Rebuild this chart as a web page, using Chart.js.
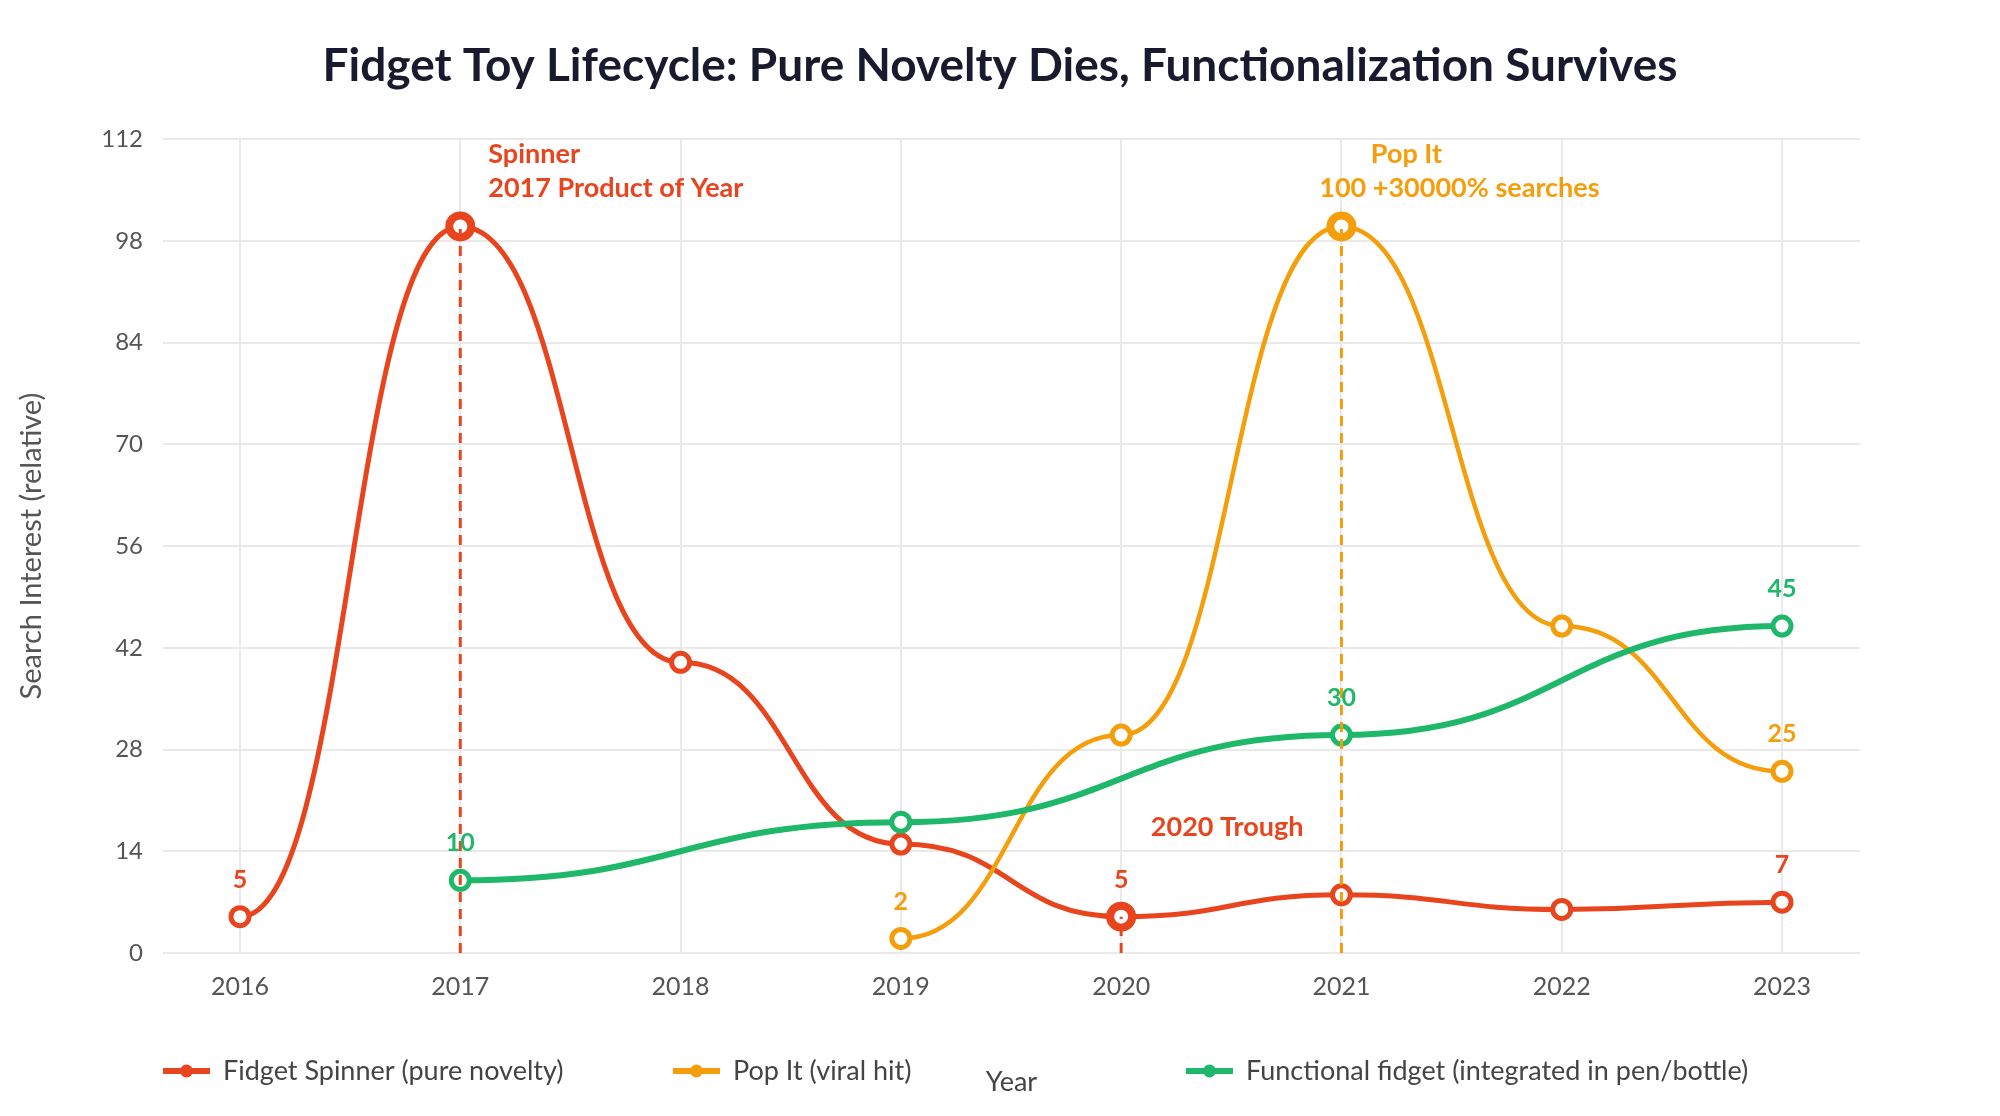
<!DOCTYPE html>
<html><head><meta charset="utf-8">
<script src="https://cdn.jsdelivr.net/npm/chart.js@4.4.1/dist/chart.umd.min.js"></script>
<style>html,body{margin:0;padding:0;background:#fff;}canvas{display:block;}</style>
</head><body>
<canvas id="c" width="2000" height="1116"></canvas>
<script>
// ---- data ----
const years = [2016, 2017, 2018, 2019, 2020, 2021, 2022, 2023];
const spinner = [5, 100, 40, 15, 5, 8, 6, 7];
const popIt = [null, null, null, 2, 30, 100, 45, 25];
const functional = [null, 10, null, 18, null, 30, null, 45];
const seriesNames = ['Fidget Spinner (pure novelty)', 'Pop It (viral hit)', 'Functional fidget (integrated in pen/bottle)'];
const spinnerLabelYears = [2016, 2020, 2023];
const popItLabelYears = [2019, 2023];
const functionalLabelYears = [2017, 2021, 2023];
const spinnerHighlightYears = [2017, 2020];
const popItHighlightYears = [2021];
const spinnerPeakText = ['Spinner', '2017 Product of Year'];
const popItPeakText = ['Pop It', '100 +30000% searches'];
const troughText = '2020 Trough';
const yTicks = { min: 0, max: 112, step: 14 };
const titleText = 'Fidget Toy Lifecycle: Pure Novelty Dies, Functionalization Survives';
const xTitle = 'Year';
const yTitle = 'Search Interest (relative)';

// ---- style ----
const RED = '#e8451e', ORANGE = '#f59e0b', GREEN = '#1fb86b';
const FONT = 'Lato, "Noto Sans", sans-serif';
const toPts = (vals) => years.map((y, i) => ({ x: y, y: vals[i] })).filter(p => p.y !== null);
const valOf = (vals, yr) => vals[years.indexOf(yr)];

const lineDs = (label, vals, color, width, order) => ({
  label, data: toPts(vals), borderColor: color, backgroundColor: '#fff',
  borderWidth: width, tension: 0.4, pointRadius: 9, pointBorderWidth: 5,
  pointBackgroundColor: '#fff', pointBorderColor: color, order, bump: true
});
const highlightDs = (vals, yrs, color) => ({
  label: '_hl', data: yrs.map(y => ({ x: y, y: valOf(vals, y) })), showLine: false,
  pointRadius: 11, pointBorderWidth: 8, pointBorderColor: color, pointBackgroundColor: '#fff',
  borderColor: color, order: 1
});
const dropDs = (vals, yr, color) => ({
  label: '_drop', data: [{ x: yr, y: 0 }, { x: yr, y: valOf(vals, yr) }],
  borderColor: color, borderWidth: 3, borderDash: [10, 7], pointRadius: 0, order: 0
});

const datasets = [
  lineDs(seriesNames[0], spinner, RED, 5, 4),
  lineDs(seriesNames[1], popIt, ORANGE, 4.5, 3),
  lineDs(seriesNames[2], functional, GREEN, 6, 2),
  highlightDs(spinner, spinnerHighlightYears, RED),
  highlightDs(popIt, popItHighlightYears, ORANGE),
  ...spinnerHighlightYears.map(y => dropDs(spinner, y, RED)),
  ...popItHighlightYears.map(y => dropDs(popIt, y, ORANGE))
];

const labelSets = [
  { vals: spinner, yrs: spinnerLabelYears, color: RED },
  { vals: popIt, yrs: popItLabelYears, color: ORANGE },
  { vals: functional, yrs: functionalLabelYears, color: GREEN }
];

// horizontal-tangent (bump) smoothing of the library's bezier control points
const bump = {
  id: 'bump',
  beforeDatasetDraw(chart, args) {
    const meta = args.meta;
    const ds = chart.data.datasets[args.index];
    if (!ds.bump || !meta.dataset) return;
    meta.dataset.updateControlPoints(chart.chartArea);
    const pts = meta.data;
    for (let i = 0; i < pts.length; i++) {
      const p = pts[i], prev = pts[i - 1], next = pts[i + 1];
      if (prev) { p.cp1x = p.x - (p.x - prev.x) * 0.5; p.cp1y = p.y; }
      if (next) { p.cp2x = p.x + (next.x - p.x) * 0.5; p.cp2y = p.y; }
    }
  }
};

const overlay = {
  id: 'overlay',
  afterDatasetsDraw(chart) {
    const ctx = chart.ctx, xs = chart.scales.x, ys = chart.scales.y;
    ctx.save();
    ctx.textAlign = 'center'; ctx.textBaseline = 'middle';
    ctx.font = 'bold 25px ' + FONT;
    labelSets.forEach(s => s.yrs.forEach(yr => {
      const v = valOf(s.vals, yr);
      ctx.fillStyle = s.color;
      ctx.fillText(String(v), xs.getPixelForValue(yr), ys.getPixelForValue(v) - 37);
    }));
    ctx.font = 'bold 27px ' + FONT;
    // spinner peak annotation
    let px = xs.getPixelForValue(spinnerHighlightYears[0]);
    let py = ys.getPixelForValue(valOf(spinner, spinnerHighlightYears[0]));
    ctx.fillStyle = RED; ctx.textAlign = 'left';
    ctx.fillText(spinnerPeakText[0], px + 28, py - 72);
    ctx.fillText(spinnerPeakText[1], px + 28, py - 38);
    // pop it annotation
    px = xs.getPixelForValue(popItHighlightYears[0]);
    py = ys.getPixelForValue(valOf(popIt, popItHighlightYears[0]));
    ctx.fillStyle = ORANGE; ctx.textAlign = 'center';
    ctx.fillText(popItPeakText[0], px + 65, py - 72);
    ctx.fillText(popItPeakText[1], px + 118, py - 38);
    // trough
    px = xs.getPixelForValue(spinnerHighlightYears[1]);
    py = ys.getPixelForValue(valOf(spinner, spinnerHighlightYears[1]));
    ctx.fillStyle = RED;
    ctx.fillText(troughText, px + 106, py - 89);
    ctx.restore();
  },
  afterDraw(chart) {
    const ctx = chart.ctx;
    const xsPos = [163, 673, 1186];
    const colors = [RED, ORANGE, GREEN];
    const y = 1071;
    ctx.save();
    ctx.font = '27px ' + FONT; ctx.textBaseline = 'middle'; ctx.textAlign = 'left';
    xsPos.forEach((x, i) => {
      ctx.strokeStyle = colors[i]; ctx.lineWidth = 6; ctx.lineCap = 'butt';
      ctx.beginPath(); ctx.moveTo(x, y); ctx.lineTo(x + 47, y); ctx.stroke();
      ctx.fillStyle = colors[i];
      ctx.beginPath(); ctx.arc(x + 23.5, y, 6.5, 0, Math.PI * 2); ctx.fill();
      ctx.fillStyle = '#444';
      ctx.fillText(chart.data.datasets[i].label, x + 60, y);
    });
    ctx.restore();
  }
};

new Chart(document.getElementById('c'), {
  type: 'line',
  data: { datasets },
  options: {
    responsive: false, animation: false, devicePixelRatio: 1,
    layout: { padding: 0 },
    plugins: {
      legend: { display: false },
      tooltip: { enabled: false },
      title: {
        display: true, text: titleText, color: '#1a1a2e',
        font: { family: FONT, size: 46, weight: 'bold' },
        padding: { top: 39, bottom: 45 }
      }
    },
    scales: {
      x: {
        type: 'linear', min: 2015.6505, max: 2023.354,
        grid: { color: '#e9e9e9', lineWidth: 2, drawTicks: false },
        border: { display: false },
        ticks: {
          stepSize: 1, includeBounds: false, padding: 19, color: '#555',
          font: { family: FONT, size: 25 },
          callback: v => Number.isInteger(v) ? String(v) : ''
        },
        title: { display: true, text: xTitle, color: '#444', font: { family: FONT, size: 27 }, padding: { top: 0, bottom: 18 } },
        afterFit: s => { s.height = 163; }
      },
      y: {
        min: yTicks.min, max: yTicks.max,
        grid: { color: '#e9e9e9', lineWidth: 2, drawTicks: false },
        border: { display: false },
        ticks: { stepSize: yTicks.step, padding: 20, color: '#555', font: { family: FONT, size: 24 } },
        title: { display: true, text: yTitle, color: '#555', font: { family: FONT, size: 29 }, padding: { top: 14, bottom: 0 } },
        afterFit: s => { s.width = 163; }
      },
      yRight: {
        position: 'right', display: true,
        grid: { display: false }, border: { display: false }, ticks: { display: false },
        afterFit: s => { s.width = 140; }
      }
    }
  },
  plugins: [bump, overlay]
});
</script>
</body></html>
